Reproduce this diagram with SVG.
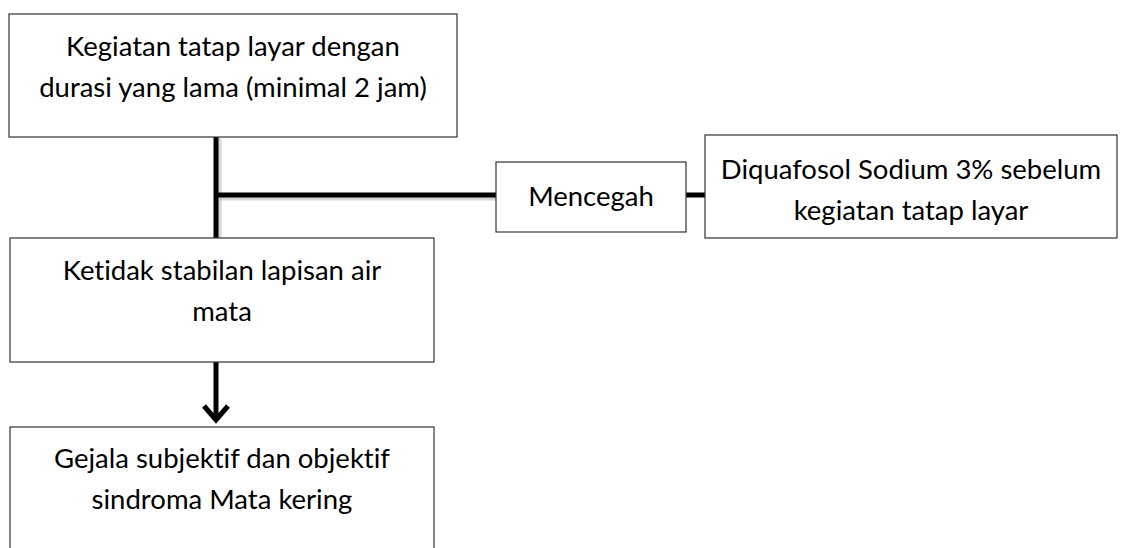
<svg xmlns="http://www.w3.org/2000/svg" width="1129" height="548" viewBox="0 0 1129 548">
<style>
.box{fill:#fff;stroke:#333;stroke-width:1.2}
.t{font-family:Lato,"Open Sans","Liberation Sans",sans-serif;font-size:27.5px;fill:#000;text-anchor:middle;font-variant-ligatures:none}
.c{stroke:#000;stroke-width:5;fill:none}
.sh{stroke:#bbb;stroke-width:5;fill:none;opacity:0.6}
</style>
<rect width="1129" height="548" fill="#fff"/>
<g id="connectors">
<line class="sh" x1="219" y1="138" x2="219" y2="238"/>
<line class="sh" x1="218" y1="198" x2="496" y2="198"/>
<line class="c" x1="216" y1="137" x2="216" y2="238"/>
<line class="c" x1="216" y1="195" x2="496" y2="195"/>
<line class="c" x1="686" y1="195" x2="705" y2="195"/>
<line class="c" x1="216" y1="362" x2="216" y2="420"/>
<path d="M204,406 L216,420 L228,406" fill="none" stroke="#000" stroke-width="5"/>
</g>
<g id="n1">
<rect class="box" x="9" y="14" width="448" height="123"/>
<text class="t" x="233" y="56">Kegiatan tatap layar dengan</text>
<text class="t" x="233" y="97">durasi yang lama (minimal 2 jam)</text>
</g>
<g id="n2">
<rect class="box" x="496" y="162" width="190" height="70"/>
<text class="t" x="591" y="206">Mencegah</text>
</g>
<g id="n3">
<rect class="box" x="705" y="135" width="412" height="103"/>
<text class="t" x="911" y="179">Diquafosol Sodium 3% sebelum</text>
<text class="t" x="911" y="220">kegiatan tatap layar</text>
</g>
<g id="n4">
<rect class="box" x="10" y="238" width="424" height="124"/>
<text class="t" x="222" y="280">Ketidak stabilan lapisan air</text>
<text class="t" x="222" y="321">mata</text>
</g>
<g id="n5">
<rect class="box" x="10" y="427" width="424" height="140"/>
<text class="t" x="222" y="468">Gejala subjektif dan objektif</text>
<text class="t" x="222" y="509">sindroma Mata kering</text>
</g>
</svg>
